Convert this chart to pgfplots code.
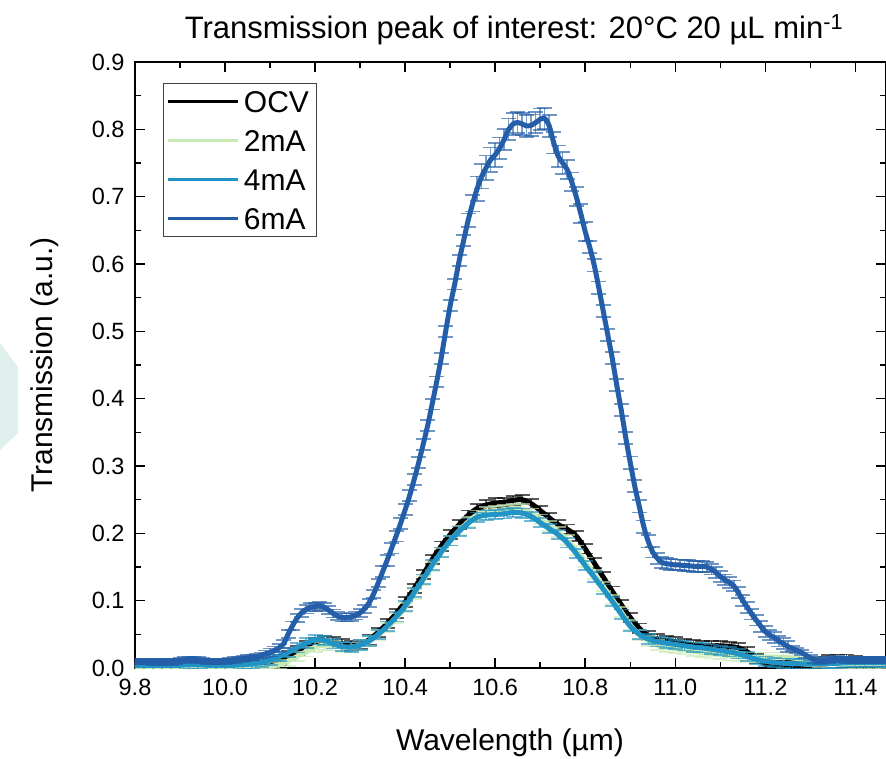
\documentclass[border=0pt]{standalone}
\usepackage{fontspec}
\setmainfont{Liberation Sans}
\usepackage{pgfplots}
\usepackage{pgfplotstable}
\pgfplotsset{compat=1.18}
\definecolor{cOCV}{RGB}{0,0,0}
\definecolor{cTwo}{RGB}{199,233,180}
\definecolor{cFour}{RGB}{33,147,196}
\definecolor{cSix}{RGB}{36,94,168}
\definecolor{wm}{RGB}{222,239,236}

\pgfplotstableread{
x ocv m2 m4
9.80 0.004 0.001 0.004
9.82 0.004 0.001 0.004
9.84 0.003 0.001 0.004
9.86 0.003 0.001 0.004
9.88 0.003 0.001 0.004
9.90 0.003 0.001 0.004
9.92 0.003 0.001 0.005
9.94 0.003 0.001 0.005
9.96 0.003 0.001 0.004
9.98 0.003 0.001 0.004
10.00 0.003 0.001 0.004
10.02 0.003 0.001 0.004
10.04 0.003 0.001 0.005
10.06 0.003 0.001 0.006
10.08 0.004 0.001 0.008
10.10 0.006 0.002 0.012
10.12 0.011 0.005 0.017
10.14 0.018 0.010 0.023
10.16 0.026 0.017 0.030
10.18 0.033 0.024 0.037
10.20 0.038 0.031 0.042
10.22 0.040 0.034 0.041
10.24 0.039 0.033 0.036
10.26 0.036 0.031 0.032
10.28 0.033 0.031 0.031
10.30 0.035 0.034 0.034
10.32 0.042 0.040 0.040
10.34 0.053 0.049 0.050
10.36 0.066 0.060 0.062
10.38 0.081 0.074 0.076
10.40 0.098 0.090 0.092
10.42 0.118 0.110 0.112
10.44 0.139 0.130 0.132
10.46 0.161 0.151 0.153
10.48 0.181 0.171 0.172
10.50 0.198 0.189 0.189
10.52 0.213 0.204 0.203
10.54 0.227 0.217 0.215
10.56 0.237 0.227 0.224
10.58 0.242 0.232 0.227
10.60 0.245 0.234 0.228
10.62 0.246 0.235 0.229
10.64 0.249 0.237 0.231
10.66 0.250 0.236 0.230
10.68 0.244 0.230 0.225
10.70 0.234 0.221 0.216
10.72 0.223 0.211 0.207
10.74 0.213 0.202 0.198
10.76 0.206 0.190 0.186
10.78 0.196 0.175 0.170
10.80 0.177 0.157 0.152
10.82 0.156 0.139 0.135
10.84 0.135 0.121 0.117
10.86 0.114 0.102 0.099
10.88 0.094 0.083 0.080
10.90 0.075 0.064 0.062
10.92 0.059 0.049 0.050
10.94 0.048 0.040 0.043
10.96 0.043 0.034 0.039
10.98 0.041 0.031 0.037
11.00 0.039 0.029 0.035
11.02 0.036 0.027 0.033
11.04 0.034 0.025 0.031
11.06 0.033 0.023 0.030
11.08 0.033 0.021 0.028
11.10 0.033 0.020 0.026
11.12 0.032 0.018 0.024
11.14 0.030 0.017 0.021
11.16 0.024 0.016 0.017
11.18 0.014 0.016 0.013
11.20 0.006 0.016 0.010
11.22 0.003 0.016 0.008
11.24 0.003 0.016 0.007
11.26 0.003 0.015 0.006
11.28 0.004 0.013 0.006
11.30 0.008 0.010 0.006
11.32 0.010 0.008 0.006
11.34 0.012 0.007 0.007
11.36 0.013 0.006 0.007
11.38 0.013 0.006 0.008
11.40 0.011 0.006 0.008
11.42 0.010 0.006 0.008
11.44 0.009 0.006 0.008
11.46 0.008 0.007 0.008
11.48 0.008 0.008 0.008
}\grp

\pgfplotstableread{
x m6 e6
9.80 0.010 0.004
9.81 0.010 0.004
9.82 0.010 0.004
9.83 0.010 0.004
9.84 0.009 0.004
9.85 0.009 0.004
9.86 0.009 0.004
9.87 0.009 0.004
9.88 0.009 0.004
9.89 0.010 0.004
9.90 0.011 0.004
9.91 0.012 0.004
9.92 0.013 0.004
9.93 0.013 0.004
9.94 0.012 0.004
9.95 0.011 0.004
9.96 0.010 0.004
9.97 0.010 0.004
9.98 0.010 0.004
9.99 0.010 0.004
10.00 0.010 0.004
10.01 0.011 0.004
10.02 0.012 0.004
10.03 0.013 0.004
10.04 0.014 0.004
10.05 0.015 0.004
10.06 0.016 0.004
10.07 0.017 0.004
10.08 0.019 0.004
10.09 0.021 0.005
10.10 0.023 0.006
10.11 0.026 0.006
10.12 0.030 0.006
10.13 0.036 0.006
10.14 0.050 0.006
10.15 0.063 0.006
10.16 0.074 0.006
10.17 0.082 0.006
10.18 0.087 0.006
10.19 0.090 0.006
10.20 0.091 0.006
10.21 0.092 0.006
10.22 0.090 0.006
10.23 0.086 0.006
10.24 0.081 0.006
10.25 0.077 0.006
10.26 0.075 0.006
10.27 0.075 0.006
10.28 0.076 0.006
10.29 0.078 0.006
10.30 0.082 0.006
10.31 0.088 0.006
10.32 0.097 0.006
10.33 0.110 0.006
10.34 0.126 0.006
10.35 0.143 0.008
10.36 0.160 0.008
10.37 0.178 0.008
10.38 0.196 0.008
10.39 0.215 0.008
10.40 0.235 0.008
10.41 0.256 0.008
10.42 0.280 0.008
10.43 0.305 0.008
10.44 0.332 0.008
10.45 0.360 0.008
10.46 0.392 0.008
10.47 0.425 0.008
10.48 0.460 0.008
10.49 0.500 0.008
10.50 0.538 0.008
10.51 0.570 0.008
10.52 0.605 0.008
10.53 0.635 0.008
10.54 0.665 0.010
10.55 0.690 0.012
10.56 0.712 0.018
10.57 0.730 0.018
10.58 0.743 0.018
10.59 0.755 0.018
10.60 0.762 0.018
10.61 0.772 0.016
10.62 0.785 0.016
10.63 0.800 0.016
10.64 0.808 0.016
10.65 0.810 0.016
10.66 0.808 0.016
10.67 0.805 0.016
10.68 0.806 0.016
10.69 0.810 0.016
10.70 0.815 0.016
10.71 0.816 0.016
10.72 0.805 0.016
10.73 0.780 0.016
10.74 0.760 0.016
10.75 0.750 0.016
10.76 0.740 0.014
10.77 0.722 0.014
10.78 0.700 0.014
10.79 0.675 0.014
10.80 0.648 0.014
10.81 0.625 0.009
10.82 0.598 0.009
10.83 0.565 0.009
10.84 0.530 0.009
10.85 0.495 0.009
10.86 0.460 0.009
10.87 0.420 0.009
10.88 0.383 0.009
10.89 0.342 0.009
10.90 0.305 0.009
10.91 0.270 0.009
10.92 0.240 0.009
10.93 0.210 0.009
10.94 0.188 0.009
10.95 0.172 0.008
10.96 0.163 0.008
10.97 0.157 0.008
10.98 0.155 0.008
10.99 0.154 0.008
11.00 0.153 0.008
11.01 0.153 0.008
11.02 0.152 0.008
11.03 0.152 0.008
11.04 0.151 0.008
11.05 0.151 0.008
11.06 0.151 0.008
11.07 0.150 0.008
11.08 0.147 0.008
11.09 0.142 0.008
11.10 0.136 0.008
11.11 0.131 0.008
11.12 0.127 0.008
11.13 0.122 0.008
11.14 0.112 0.008
11.15 0.100 0.008
11.16 0.090 0.008
11.17 0.080 0.008
11.18 0.071 0.008
11.19 0.062 0.008
11.20 0.054 0.008
11.21 0.049 0.008
11.22 0.045 0.008
11.23 0.040 0.008
11.24 0.036 0.008
11.25 0.032 0.008
11.26 0.029 0.004
11.27 0.026 0.004
11.28 0.023 0.004
11.29 0.019 0.004
11.30 0.015 0.004
11.31 0.012 0.004
11.32 0.010 0.004
11.33 0.011 0.004
11.34 0.012 0.004
11.35 0.013 0.004
11.36 0.014 0.004
11.37 0.013 0.004
11.38 0.012 0.004
11.39 0.012 0.004
11.40 0.012 0.004
11.41 0.012 0.004
11.42 0.012 0.004
11.43 0.012 0.004
11.44 0.012 0.004
11.45 0.012 0.004
11.46 0.012 0.004
11.47 0.012 0.004
11.48 0.012 0.004
}\six

\begin{document}
\begin{tikzpicture}
\fill[wm] (-135bp,325bp) -- (-117bp,301bp) -- (-117bp,235bp) -- (-135bp,218bp) -- cycle;
\begin{axis}[
  name=ax, at={(0,0)}, anchor=south west,
  scale only axis, width=751bp, height=606bp,
  xmin=9.8, xmax=11.468, ymin=0, ymax=0.9,
  xtick={9.8,10.0,10.2,10.4,10.6,10.8,11.0,11.2,11.4},
  ytick={0,0.1,0.2,0.3,0.4,0.5,0.6,0.7,0.8,0.9},
  minor x tick num=1, minor y tick num=1,
  tick align=inside, tick pos=both,
  xticklabel pos=lower, yticklabel pos=left,
  major tick length=10bp, minor tick length=6bp,
  every tick/.style={black, line width=1.5bp},
  axis line style={line width=1.8bp},
  /pgf/number format/.cd, fixed, fixed zerofill, precision=1, assume math mode=true,
  /pgfplots/.cd,
  ticklabel style={font=\fontsize{23.5bp}{28bp}\selectfont},
  yticklabel style={xshift=-7bp},
  xticklabel style={yshift=-8bp},
  legend style={at={(0,1)}, anchor=north west, xshift=28bp, yshift=-21bp,
    draw=black!75, line width=1bp, inner xsep=3bp, inner ysep=5bp,
    font=\fontsize{30bp}{36bp}\selectfont,
    nodes={inner ysep=2bp, inner xsep=4bp, text height=22bp, text depth=0bp},
    row sep=13bp},
  legend cell align=left,
  legend image code/.code={\draw[#1, line width=3.5bp, opacity=1] (0bp,0bp) -- (70bp,0bp);},
  every axis plot/.append style={line width=5bp, smooth, no markers},
  error bars/error bar style={line width=1.5bp, opacity=0.6},
  error bars/error mark options={rotate=90, mark size=7.5bp, line width=1.8bp, opacity=0.65},
]
\addplot[cOCV, error bars/.cd, y dir=both, y fixed=0.007] table[x=x, y=ocv]{\grp};
\addlegendentry{OCV}
\addplot[cTwo, error bars/.cd, y dir=both, y fixed=0.007] table[x=x, y=m2]{\grp};
\addlegendentry{2mA}
\addplot[cFour, error bars/.cd, y dir=both, y fixed=0.007] table[x=x, y=m4]{\grp};
\addlegendentry{4mA}
\addplot[cSix, error bars/.cd, y dir=both, y explicit] table[x=x, y=m6, y error=e6]{\six};
\addlegendentry{6mA}
\end{axis}
\node[anchor=base, font=\fontsize{31bp}{36bp}\selectfont] at (379bp,629bp) {Transmission peak of interest: 20°C 20 µL min\textsuperscript{-1}};
\node[anchor=base, font=\fontsize{30bp}{36bp}\selectfont] at (375bp,-82bp) {Wavelength (µm)};
\node[rotate=90, font=\fontsize{30bp}{36bp}\selectfont] at (-90bp,303bp) {Transmission (a.u.)};
\pgfresetboundingbox
\path[use as bounding box] (-135bp,-91bp) rectangle (751bp,668bp);
\end{tikzpicture}
\end{document}
